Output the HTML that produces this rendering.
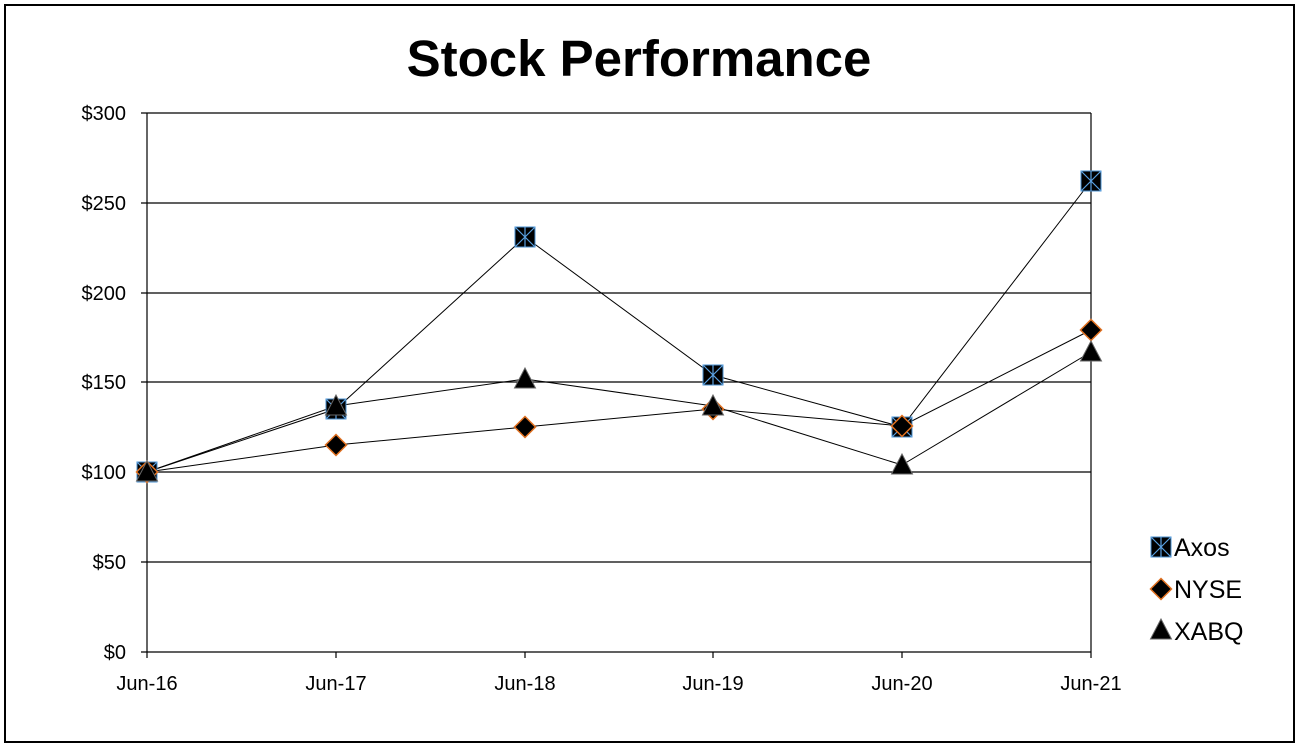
<!DOCTYPE html>
<html><head><meta charset="utf-8"><style>
body{margin:0;background:#fff;}
svg{display:block;font-family:"Liberation Sans",sans-serif;}
</style></head><body>
<svg width="1300" height="747" viewBox="0 0 1300 747">
<defs>
<g id="sq"><rect x="-10" y="-10" width="20" height="20" fill="#000" stroke="#4a90d0" stroke-width="1"/><path d="M-10,-10L10,10M10,-10L-10,10M0,-10V10" stroke="#5aa0e0" stroke-width="1.2"/></g>
<g id="dm"><path d="M0,-10.5L10.5,0L0,10.5L-10.5,0Z" fill="#000" stroke="#e07020" stroke-width="1.5"/></g>
<g id="tr"><path d="M0,-11L10.5,9L-10.5,9Z" fill="#000" stroke="#666" stroke-width="1"/></g>
</defs>
<rect x="5" y="5" width="1289" height="737" fill="#fff" stroke="#000" stroke-width="2"/>
<text x="639" y="76" font-size="51" font-weight="bold" text-anchor="middle">Stock Performance</text>
<g stroke="#000" stroke-width="1.2">
<path d="M141,113H1091M141,203H1091M141,293H1091M141,382H1091M141,472H1091M141,562H1091M141,652H1091"/>
<path d="M147,113V658M1091,113V652"/>
<path d="M336,652V658M525,652V658M713,652V658M902,652V658M1091,652V658"/>
</g>
<g font-size="20" text-anchor="end">
<text x="126" y="120">$300</text><text x="126" y="210">$250</text><text x="126" y="300">$200</text>
<text x="126" y="389">$150</text><text x="126" y="479">$100</text><text x="126" y="569">$50</text><text x="126" y="659">$0</text>
</g>
<g font-size="20" text-anchor="middle">
<text x="147" y="690">Jun-16</text><text x="336" y="690">Jun-17</text><text x="525" y="690">Jun-18</text>
<text x="713" y="690">Jun-19</text><text x="902" y="690">Jun-20</text><text x="1091" y="690">Jun-21</text>
</g>
<g fill="none" stroke="#000" stroke-width="1">
<polyline points="147,472 336,409 525,237 713,375 902,427 1091,181"/>
<polyline points="147,472 336,445 525,427 713,409 902,426 1091,330"/>
<polyline points="147,472 336,406 525,379 713,406 902,465 1091,352"/>
</g>
<use href="#sq" x="147" y="472"/><use href="#sq" x="336" y="409"/><use href="#sq" x="525" y="237"/><use href="#sq" x="713" y="375"/><use href="#sq" x="902" y="427"/><use href="#sq" x="1091" y="181"/>
<use href="#dm" x="147" y="472"/><use href="#dm" x="336" y="445"/><use href="#dm" x="525" y="427"/><use href="#dm" x="713" y="409"/><use href="#dm" x="902" y="426"/><use href="#dm" x="1091" y="330"/>
<use href="#tr" x="147" y="472"/><use href="#tr" x="336" y="406"/><use href="#tr" x="525" y="379"/><use href="#tr" x="713" y="406"/><use href="#tr" x="902" y="465"/><use href="#tr" x="1091" y="352"/>
<use href="#sq" x="1161" y="547"/><use href="#dm" x="1161" y="589"/><use href="#tr" x="1161" y="630"/>
<g font-size="25"><text x="1174" y="556">Axos</text><text x="1174" y="598">NYSE</text><text x="1174" y="640">XABQ</text></g>
</svg>
</body></html>
